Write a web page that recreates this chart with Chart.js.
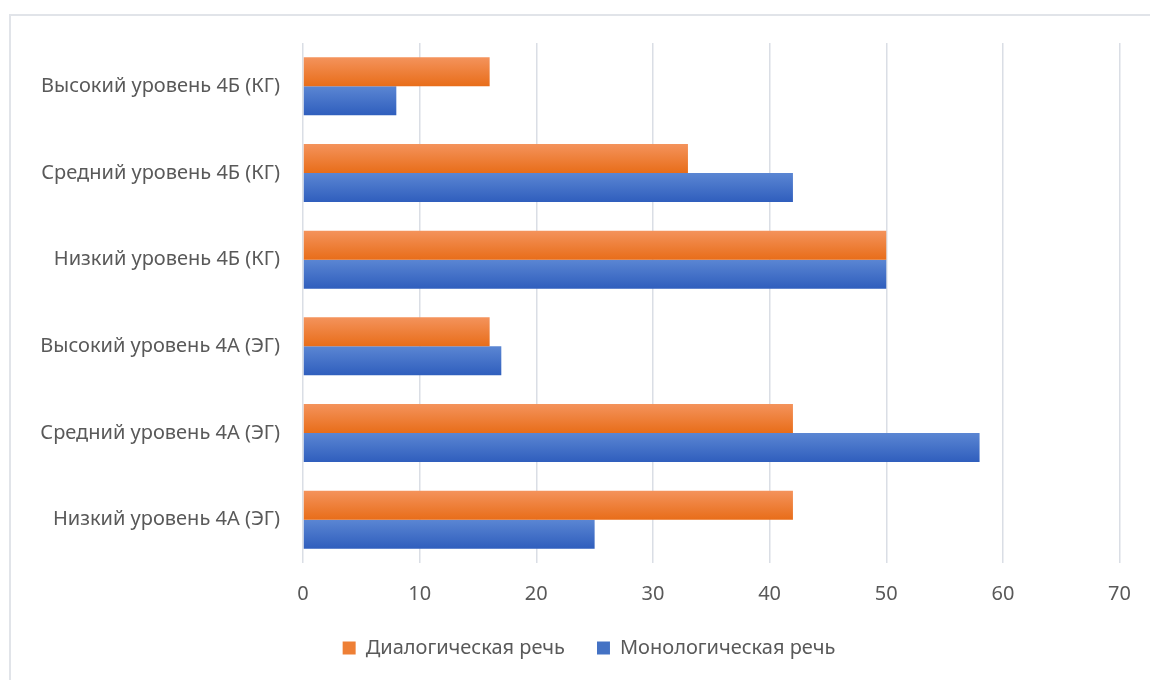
<!DOCTYPE html>
<html lang="ru">
<head>
<meta charset="utf-8">
<title>Уровни развития речи</title>
<script src="https://cdn.jsdelivr.net/npm/chart.js@4"></script>
<style>
    html, body { margin: 0; padding: 0; background: #fff; }
    #wrap { position: relative; width: 1150px; height: 680px; }
    #frame {
        position: absolute; left: 9px; top: 14px; right: -5px; bottom: -5px;
        border-left: 2px solid #e1e4e9; border-top: 2px solid #e1e4e9;
        pointer-events: none;
    }
</style>
</head>
<body>
<div id="wrap">
    <canvas id="chart" width="1150" height="680"></canvas>
    <div id="frame"></div>
</div>
<script>
// Категории сверху вниз
const categories = [
    'Высокий уровень 4Б (КГ)',
    'Средний уровень 4Б (КГ)',
    'Низкий уровень 4Б (КГ)',
    'Высокий уровень 4А (ЭГ)',
    'Средний уровень 4А (ЭГ)',
    'Низкий уровень 4А (ЭГ)'
];
const seriesNames = ['Диалогическая речь', 'Монологическая речь'];
const dialogValues = [16, 33, 50, 16, 42, 42];
const monologValues = [8, 42, 50, 17, 58, 25];
const xTicks = [0, 10, 20, 30, 40, 50, 60, 70];

const TEXT = '#595959';
const GRID = '#dadee5';
const FONT = 'Noto Sans';
const BAR_PCT = 0.67;

// светлый верх -> тёмный низ для каждой серии
const gradientStops = [
    ['#f4935c', '#e86d19'],
    ['#5b86d3', '#2f5ebd']
];
const legendColors = ['#ee7f35', '#4472c4'];

// Заливка каждого столбика своим вертикальным градиентом
const barGradientPlugin = {
    id: 'barGradient',
    beforeDatasetDraw(chart, args) {
        const ctx = chart.ctx;
        const stops = gradientStops[args.index];
        args.meta.data.forEach(bar => {
            const top = bar.y - bar.height / 2;
            const g = ctx.createLinearGradient(0, top, 0, top + bar.height);
            g.addColorStop(0, stops[0]);
            g.addColorStop(1, stops[1]);
            bar.options.backgroundColor = g;
        });
    }
};

// Легенда чуть правее центра холста
const legendShift = {
    id: 'legendShift',
    afterLayout(chart) {
        if (!chart.legend) return;
        chart.legend.left += 25;
        chart.legend.right += 25;
    }
};

new Chart(document.getElementById('chart').getContext('2d'), {
    type: 'bar',
    data: {
        labels: categories,
        datasets: [
            {
                label: seriesNames[0],
                data: dialogValues,
                // функция — чтобы у каждого столбика был свой объект опций
                backgroundColor: () => legendColors[0],
                categoryPercentage: BAR_PCT,
                barPercentage: 1
            },
            {
                label: seriesNames[1],
                data: monologValues,
                backgroundColor: () => legendColors[1],
                categoryPercentage: BAR_PCT,
                barPercentage: 1
            }
        ]
    },
    plugins: [barGradientPlugin, legendShift],
    options: {
        indexAxis: 'y',
        responsive: false,
        animation: false,
        layout: { padding: { top: 43, right: 22, left: 0, bottom: 12 } },
        plugins: {
            legend: {
                position: 'bottom',
                labels: {
                    color: TEXT,
                    font: { size: 20, family: FONT },
                    boxWidth: 13,
                    boxHeight: 13,
                    padding: 32,
                    generateLabels(chart) {
                        return chart.data.datasets.map((ds, i) => ({
                            text: ds.label,
                            fillStyle: legendColors[i],
                            strokeStyle: legendColors[i],
                            lineWidth: 0,
                            fontColor: TEXT,
                            datasetIndex: i
                        }));
                    }
                }
            },
            tooltip: { enabled: false }
        },
        scales: {
            x: {
                min: 0,
                max: 70,
                afterBuildTicks(scale) {
                    scale.ticks = xTicks.map(v => ({ value: v }));
                },
                afterFit(scale) { scale.height = 43; },
                grid: { color: GRID, lineWidth: 1.5, drawTicks: false },
                border: { display: false },
                ticks: { color: TEXT, font: { size: 20, family: FONT }, padding: 19 }
            },
            y: {
                afterFit(scale) { scale.width = 303; },
                grid: { display: false },
                border: { display: false },
                ticks: { color: TEXT, font: { size: 20, family: FONT }, padding: 15 }
            }
        }
    }
});
</script>
</body>
</html>
